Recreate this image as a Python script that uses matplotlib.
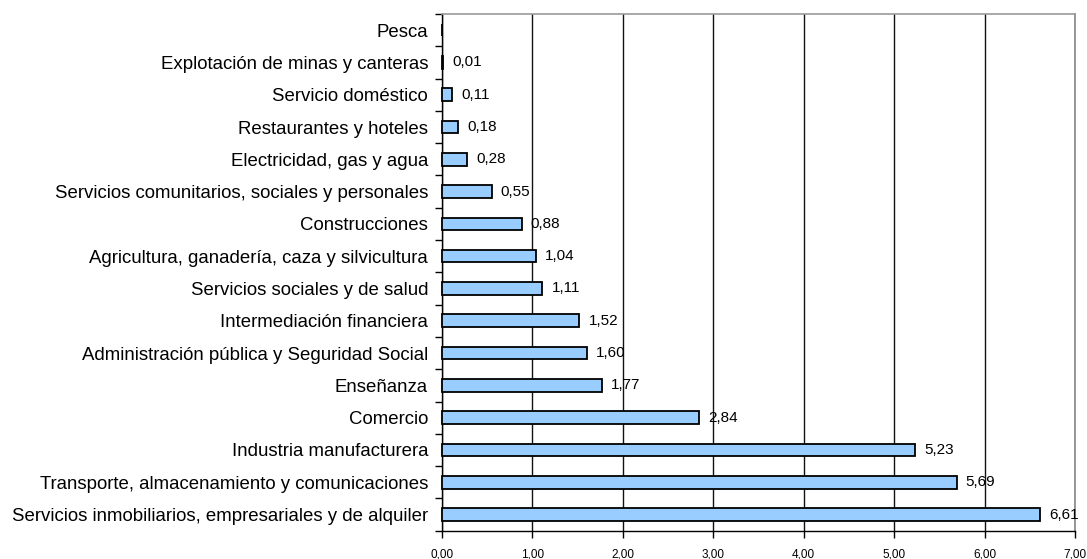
import matplotlib
matplotlib.use("Agg")
import matplotlib.pyplot as plt
import numpy as np

categories = [
    "Pesca",
    "Explotación de minas y canteras",
    "Servicio doméstico",
    "Restaurantes y hoteles",
    "Electricidad, gas y agua",
    "Servicios comunitarios, sociales y personales",
    "Construcciones",
    "Agricultura, ganadería, caza y silvicultura",
    "Servicios sociales y de salud",
    "Intermediación financiera",
    "Administración pública y Seguridad Social",
    "Enseñanza",
    "Comercio",
    "Industria manufacturera",
    "Transporte, almacenamiento y comunicaciones",
    "Servicios inmobiliarios, empresariales y de alquiler",
]
values = [0.004, 0.01, 0.11, 0.18, 0.28, 0.55, 0.88, 1.04, 1.11, 1.52, 1.60, 1.77,
          2.84, 5.23, 5.69, 6.61]
show_label = [False] + [True] * 15
xticks = [0, 1, 2, 3, 4, 5, 6, 7]
xticklabels = ["0,00", "1,00", "2,00", "3,00", "4,00", "5,00", "6,00", "7,00"]

plt.rcParams['font.family'] = ['Liberation Sans', 'DejaVu Sans']

fig = plt.figure(figsize=(10.87, 5.59), dpi=100)
ax = fig.add_axes([0.4066, 0.0506, 0.989 - 0.4066, 0.975 - 0.0506])

y = np.arange(len(categories))
bars = ax.barh(y, values, height=0.39, color="#99CCFF", edgecolor="black",
               linewidth=1.3, zorder=3)
for b in bars:
    b.set_clip_on(False)

for yi, v, s in zip(y, values, show_label):
    if s:
        ax.annotate(f"{v:.2f}".replace(".", ","), xy=(v, yi), xytext=(6.5, 0),
                    textcoords="offset points", va="center", ha="left", fontsize=11,
                    zorder=4)

ax.set_xlim(0, 7)
ax.set_ylim(len(categories) - 0.5, -0.5)
ax.set_xticks(xticks)
ax.set_xticklabels(xticklabels, fontsize=8.5)

ax.set_yticks(y)
ax.set_yticklabels(categories, fontsize=13.4)
ax.tick_params(axis="y", length=0, pad=10)
ax.set_yticks(np.arange(-0.5, len(categories), 1.0), minor=True)
ax.tick_params(axis="y", which="minor", length=5, width=1, color="black", direction="out")
ax.tick_params(axis="x", length=5, width=1, direction="out", pad=8)

ax.grid(axis="x", color="#111111", linewidth=1.0, zorder=0)
ax.set_axisbelow(True)

for side in ["left", "bottom"]:
    ax.spines[side].set_color("black")
    ax.spines[side].set_linewidth(1.0)
ax.spines["top"].set_color("#999999")
ax.spines["right"].set_color("#888888")
ax.spines["top"].set_linewidth(1.2)
ax.spines["right"].set_linewidth(1.2)

fig.savefig("out.png", dpi=100)
